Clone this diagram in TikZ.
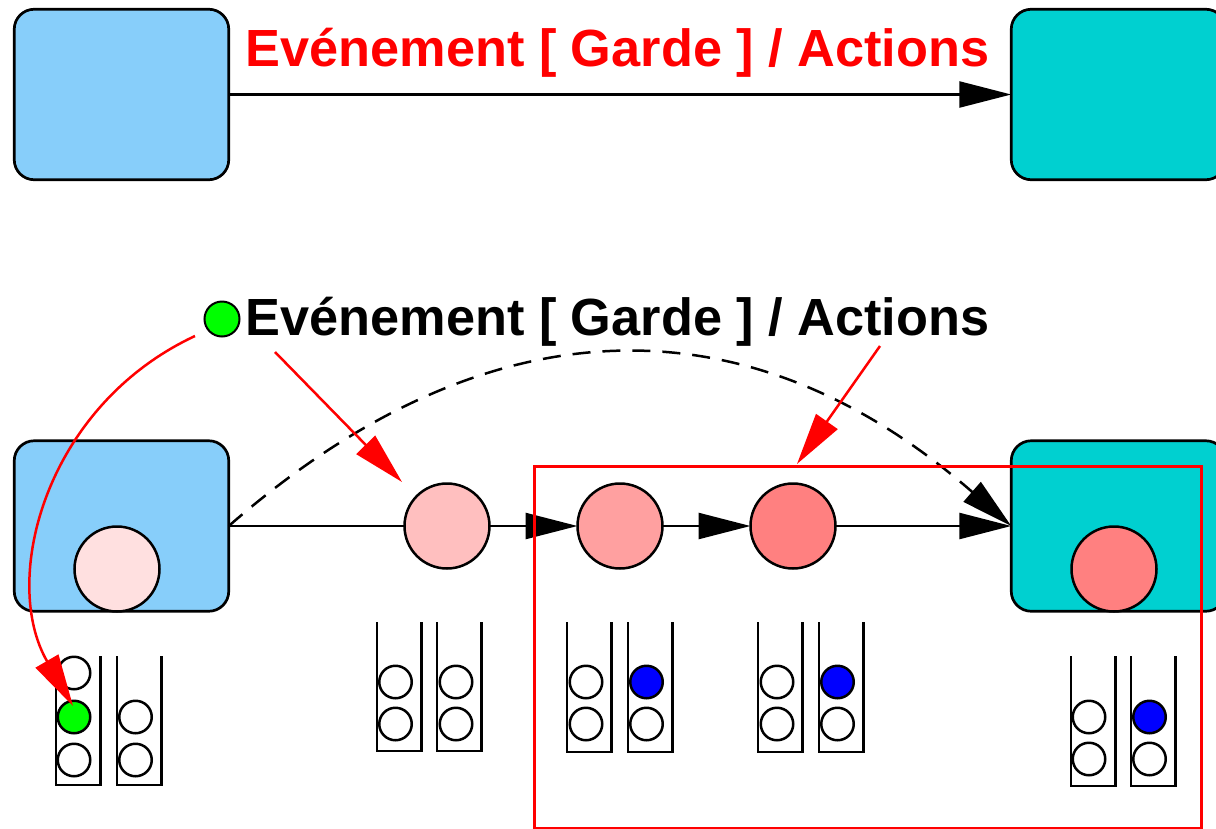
\documentclass[tikz,border=0pt]{standalone}
\usepackage{fontspec}
\setmainfont{Liberation Sans}
\usetikzlibrary{arrows.meta}
\definecolor{stateblue}{RGB}{135,206,250}
\definecolor{stateteal}{RGB}{0,208,208}
\definecolor{pinkA}{RGB}{255,224,224}
\definecolor{pinkB}{RGB}{255,191,191}
\definecolor{pinkC}{RGB}{255,160,160}
\definecolor{pinkD}{RGB}{255,128,128}
\definecolor{ballgreen}{RGB}{0,255,0}
\definecolor{ballblue}{RGB}{0,0,255}

\begin{document}
\begin{tikzpicture}[x=1pt,y=-1pt,
  state/.style={draw=black, line width=2.7pt, rounded corners=20pt,
    minimum width=214.5pt, minimum height=170.5pt, inner sep=0pt, outer sep=0pt},
  token/.style={circle, draw=black, line width=2.5pt, minimum size=85pt, inner sep=0pt, outer sep=0pt},
  ball/.style={circle, draw=black, line width=2.5pt, minimum size=32.5pt, inner sep=0pt, fill=white},
  tubeline/.style={line width=2.8pt, line join=miter},
  flow/.style={line width=2.5pt, -{Triangle[length=52pt,width=26pt]}},
  redflow/.style={flow, draw=red},
  evlabel/.style={font=\bfseries\fontsize{52.3}{60}\selectfont, inner sep=0pt, anchor=base},
]
\useasboundingbox (0,0) rectangle (1216,828);

% ---------- upper transition ----------
\node[state, fill=stateblue] (srcTop) at (121.5,94.5) {};
\node[state, fill=stateteal] (dstTop) at (1118.5,94.5) {};
\draw[flow] (srcTop.east) -- (dstTop.west);
\node[evlabel, text=red] (labTop) at (617.5,66) {Evénement [ Garde ] / Actions};

% ---------- lower transition, step by step ----------
\node[state, fill=stateblue] (srcBot) at (121.5,526) {};
\node[state, fill=stateteal] (dstBot) at (1118.5,526) {};

\node[token, fill=pinkA] (tok0) at (117,569) {};
\node[token, fill=pinkD] (tok4) at (1114,569) {};

\node[token, fill=pinkB] (tok1) at (447,526) {};
\node[token, fill=pinkC] (tok2) at (620,526) {};
\node[token, fill=pinkD] (tok3) at (793,526) {};

\draw[line width=2.5pt] (srcBot.east) -- (tok1.west);
\draw[flow] (tok1.east) -- (tok2.west);
\draw[flow] (tok2.east) -- (tok3.west);
\draw[flow] (tok3.east) -- (dstBot.west);
\draw[flow, dash pattern=on 18pt off 12pt]
  (srcBot.east) .. controls (490,298) and (750,298) .. (dstBot.west);

% event label with its marker
\node[circle, draw=black, line width=2pt, fill=ballgreen, minimum size=35pt, inner sep=0pt] (evdot) at (222,319) {};
\node[evlabel, text=black] (labBot) at (617.5,335) {Evénement [ Garde ] / Actions};

% ---------- event queues ----------
\foreach \x/\t/\b in {56/656/785, 117/656/785,
                      377/622/751, 437/622/751,
                      567/622/752, 628/622/752,
                      758/622/752, 819/622/752,
                      1071/656/786, 1131/656/786}
  \draw[tubeline] (\x,\t) -- (\x,\b) -- (\x+44.5,\b) -- (\x+44.5,\t);

% queue 1
\node[ball] (q1a1) at (74,673) {};
\node[ball, fill=ballgreen] (q1a2) at (74,717) {};
\node[ball] (q1a3) at (74,760) {};
\node[ball] (q1b1) at (135.5,717) {};
\node[ball] (q1b2) at (135.5,760) {};
% queue 2
\node[ball] (q2a1) at (395.5,682) {};
\node[ball] (q2a2) at (395.5,724) {};
\node[ball] (q2b1) at (456,682) {};
\node[ball] (q2b2) at (456,724) {};
% queue 3
\node[ball] (q3a1) at (586,682) {};
\node[ball] (q3a2) at (586,724) {};
\node[ball, fill=ballblue] (q3b1) at (646.5,682) {};
\node[ball] (q3b2) at (646.5,724) {};
% queue 4
\node[ball] (q4a1) at (777,682) {};
\node[ball] (q4a2) at (777,724) {};
\node[ball, fill=ballblue] (q4b1) at (837.5,682) {};
\node[ball] (q4b2) at (837.5,724) {};
% queue 5
\node[ball] (q5a1) at (1089,717) {};
\node[ball] (q5a2) at (1089,759) {};
\node[ball, fill=ballblue] (q5b1) at (1149.5,717) {};
\node[ball] (q5b2) at (1149.5,759) {};

% ---------- run-to-completion frame and event pointers ----------
\node[draw=red, line width=2.5pt, minimum width=667pt, minimum height=362pt, inner sep=0pt, anchor=north west] (rtc) at (533,465) {};

\coordinate (evA) at (195,336);
\coordinate (evB) at (275,352);
\coordinate (evC) at (880,346);
\coordinate (hitQueue) at (73,706);
\coordinate (hitTok) at (402,482);
\coordinate (hitFrame) at (797,464);

\draw[redflow] (evA) .. controls (45,406) and (0,580) .. (hitQueue);
\draw[redflow] (evB) -- (hitTok);
\draw[redflow] (evC) -- (hitFrame);
\end{tikzpicture}
\end{document}
